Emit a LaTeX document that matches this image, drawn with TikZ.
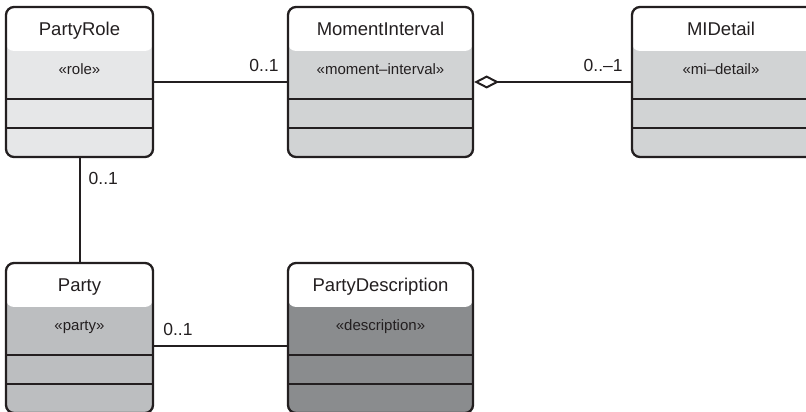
\documentclass[tikz,border=0pt]{standalone}
\usepackage{fontspec}
\setmainfont{Liberation Sans}
\usetikzlibrary{arrows.meta}
\definecolor{ink}{HTML}{231F20}
\definecolor{roleGray}{HTML}{E6E7E8}
\definecolor{miGray}{HTML}{D1D3D4}
\definecolor{partyGray}{HTML}{BCBEC0}
\definecolor{descGray}{HTML}{8A8C8E}
\begin{document}
\begin{tikzpicture}[x=1pt,y=1pt,
  classbox/.style={draw=ink,line width=2.3pt,rounded corners=8pt,inner sep=0pt,
    minimum height=150pt,
    path picture={
      \fill[white] (path picture bounding box.north west) rectangle
        ([yshift=-44pt]path picture bounding box.north east);
      \draw[ink,line width=1.2pt] ([yshift=-92pt]path picture bounding box.north west) --
        ([yshift=-92pt]path picture bounding box.north east);
      \draw[ink,line width=1.2pt] ([yshift=-121pt]path picture bounding box.north west) --
        ([yshift=-121pt]path picture bounding box.north east);
    }},
  classname/.style={anchor=base,text=ink,inner sep=0pt,font=\fontsize{18.5}{21}\selectfont},
  stereo/.style={anchor=base,text=ink,inner sep=0pt,font=\fontsize{15}{17}\selectfont},
  mult/.style={text=ink,inner sep=0pt,font=\fontsize{17.5}{20}\selectfont},
  assoc/.style={draw=ink,line width=2pt}]
\useasboundingbox (0,0) rectangle (806,412);
\clip (0,0) rectangle (806,412);
% top row
\node[classbox,fill=roleGray,minimum width=147pt] (role) at (79.5,330) {};
\node[classname] (roleName) at ([yshift=-30pt]role.north) {PartyRole};
\node[stereo] (roleStereo) at ([yshift=-69pt]role.north) {«role»};
\node[classbox,fill=miGray,minimum width=185pt] (mi) at (380.5,330) {};
\node[classname] (miName) at ([yshift=-30pt]mi.north) {MomentInterval};
\node[stereo] (miStereo) at ([yshift=-69pt]mi.north) {«moment–interval»};
\node[classbox,fill=miGray,minimum width=185pt] (detail) at (724.5,330) {};
\node[classname] (detailName) at ([xshift=-3.5pt,yshift=-30pt]detail.north) {MIDetail};
\node[stereo] (detailStereo) at ([xshift=-3.5pt,yshift=-69pt]detail.north) {«mi–detail»};
% bottom row
\node[classbox,fill=partyGray,minimum width=147pt] (party) at (79.5,74) {};
\node[classname] (partyName) at ([yshift=-30pt]party.north) {Party};
\node[stereo] (partyStereo) at ([yshift=-69pt]party.north) {«party»};
\node[classbox,fill=descGray,minimum width=185pt] (desc) at (380.5,74) {};
\node[classname] (descName) at ([yshift=-30pt]desc.north) {PartyDescription};
\node[stereo] (descStereo) at ([yshift=-69pt]desc.north) {«description»};
% associations
\draw[assoc] (role.east) -- (mi.west);
\node[mult,anchor=base east] (roleMiMult) at ([xshift=-8pt,yshift=10pt]mi.west) {0..1};
\draw[assoc,{Diamond[open,length=25pt,width=13pt,line width=2pt]}-] (mi.east) -- (detail.west);
\node[mult,anchor=base east] (miDetailMult) at ([xshift=-8pt,yshift=10pt]detail.west) {0..–1};
\draw[assoc] (role.south) -- (party.north);
\node[mult,anchor=base west] (rolePartyMult) at ([xshift=9pt,yshift=-26pt]role.south) {0..1};
\draw[assoc] ([yshift=-8pt]party.east) -- ([yshift=-8pt]desc.west);
\node[mult,anchor=base west] (partyDescMult) at ([xshift=9pt,yshift=2pt]party.east) {0..1};
\end{tikzpicture}
\end{document}
